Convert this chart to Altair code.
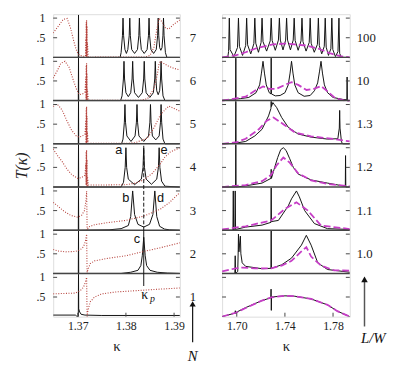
import altair as alt
import pandas as pd

PANEL_H = 1.1  # each stacked panel spans T in [0, 1.1]

# ---------------- left column : N = 1 (bottom) ... 7 (top) ----------------
N_LABELS = ["1", "2", "3", "4", "5", "6", "7"]
LEFT_XTICKS = [1.37, 1.38, 1.39]
LEFT_DOMAIN = [1.3649, 1.3912]
KAPPA_P = 1.3837

BLACK_N1 = [(1.3649, 0.04), (1.3695, 0.04), (1.3699, 0.0), (1.37012, 0.0), (1.37016, 1.08), (1.3702, 0.2),
            (1.3704, 0.12), (1.3707, 0.06), (1.3715, 0.04), (1.3750, 0.03), (1.3850, 0.03), (1.3912, 0.03)]
BLACK_N2 = [(1.3649, 0.0), (1.37012, 0.0), (1.37016, 1.08), (1.3702, 0.0), (1.3790, 0.0), (1.3810, 0.03),
            (1.3825, 0.08), (1.3831, 0.2), (1.3834, 0.45), (1.3837, 0.92), (1.3840, 0.45), (1.3843, 0.2),
            (1.3850, 0.08), (1.3865, 0.03), (1.3886, 0.01), (1.3912, 0.0)]
BLACK_N3 = [(1.3649, 0.0), (1.37012, 0.0), (1.37016, 1.08), (1.3702, 0.0), (1.3765, 0.01), (1.3790, 0.04),
            (1.3805, 0.12), (1.3810, 0.35), (1.3814, 1.0), (1.3818, 0.4), (1.3825, 0.15), (1.3837, 0.08),
            (1.3849, 0.15), (1.3856, 0.4), (1.3860, 1.0), (1.3864, 0.35), (1.3870, 0.1), (1.3880, 0.03),
            (1.3890, 0.01), (1.3912, 0.0)]
BLACK_N4 = [(1.3649, 0.0), (1.37012, 0.0), (1.37016, 1.08), (1.3702, 0.0), (1.3790, 0.0),
            (1.3795, 0.12), (1.37985, 0.5), (1.3800, 1.0), (1.38015, 0.5), (1.3805, 0.2), (1.3818, 0.06),
            (1.3832, 0.2), (1.38355, 0.5), (1.3837, 1.0), (1.38385, 0.5), (1.3842, 0.2), (1.3853, 0.07),
            (1.3864, 0.2), (1.38675, 0.5), (1.3869, 1.0), (1.38705, 0.5), (1.3874, 0.15), (1.3881, 0.02),
            (1.3912, 0.0)]
BLACK_N5 = [(1.3649, 0.0), (1.37012, 0.0), (1.37016, 1.08), (1.3702, 0.0), (1.3791, 0.0),
            (1.3794, 0.12), (1.37968, 0.55), (1.3798, 1.0), (1.37992, 0.55), (1.3802, 0.2), (1.38105, 0.06),
            (1.3819, 0.2), (1.38218, 0.55), (1.3823, 1.0), (1.38242, 0.55), (1.3827, 0.2), (1.3837, 0.06),
            (1.3847, 0.2), (1.38498, 0.55), (1.3851, 1.0), (1.38522, 0.55), (1.3855, 0.2), (1.3862, 0.1),
            (1.3869, 0.2), (1.38718, 0.55), (1.3873, 1.0), (1.38742, 0.55), (1.3877, 0.12), (1.3881, 0.0),
            (1.3912, 0.0)]
BLACK_N6 = [(1.3649, 0.0), (1.37012, 0.0), (1.37016, 1.08), (1.3702, 0.0), (1.3789, 0.0),
            (1.3792, 0.12), (1.37948, 0.55), (1.3796, 1.0), (1.37972, 0.55), (1.3800, 0.2), (1.3805, 0.1),
            (1.3810, 0.2), (1.38128, 0.55), (1.3814, 1.0), (1.38152, 0.55), (1.3818, 0.2), (1.3826, 0.08),
            (1.3834, 0.2), (1.38368, 0.55), (1.3838, 1.0), (1.38392, 0.55), (1.3842, 0.2), (1.38495, 0.08),
            (1.3857, 0.2), (1.38598, 0.55), (1.3861, 1.0), (1.38622, 0.55), (1.3864, 0.25), (1.3867, 0.15),
            (1.3870, 0.25), (1.38718, 0.55), (1.3873, 1.0), (1.38742, 0.55), (1.3877, 0.12), (1.3881, 0.0),
            (1.3912, 0.0)]
BLACK_N7 = [(1.3649, 0.0), (1.37012, 0.0), (1.37016, 1.08), (1.3702, 0.0), (1.3788, 0.0),
            (1.3790, 0.12), (1.37928, 0.55), (1.3794, 1.0), (1.37952, 0.55), (1.3798, 0.2), (1.3801, 0.1),
            (1.3804, 0.2), (1.38068, 0.55), (1.3808, 1.0), (1.38092, 0.55), (1.3812, 0.2), (1.3818, 0.1),
            (1.3824, 0.2), (1.38268, 0.55), (1.3828, 1.0), (1.38292, 0.55), (1.3832, 0.2), (1.3838, 0.1),
            (1.3844, 0.2), (1.38468, 0.55), (1.3848, 1.0), (1.38492, 0.55), (1.3852, 0.2), (1.38575, 0.1),
            (1.3863, 0.2), (1.38658, 0.55), (1.3867, 1.0), (1.38682, 0.55), (1.3870, 0.25), (1.38725, 0.18),
            (1.3875, 0.25), (1.38768, 0.55), (1.3878, 1.0), (1.38792, 0.55), (1.3882, 0.12), (1.3885, 0.0),
            (1.3912, 0.0)]

RED_N1 = [(1.3649, 0.58), (1.3670, 0.59), (1.3695, 0.6), (1.3705, 0.66), (1.3712, 0.75), (1.3716, 0.88),
          (1.37185, 1.0), (1.3719, 0.4), (1.37195, 0.0), (1.3721, 0.15), (1.3726, 0.38), (1.3735, 0.5),
          (1.3750, 0.58), (1.3780, 0.63), (1.3820, 0.66), (1.3870, 0.7), (1.3912, 0.73)]
RED_N2 = [(1.3649, 0.61), (1.3660, 0.57), (1.3675, 0.55), (1.3695, 0.56), (1.3705, 0.6), (1.3712, 0.68),
          (1.3716, 0.82), (1.37185, 1.0), (1.3719, 0.4), (1.37195, 0.0), (1.3721, 0.1), (1.3726, 0.25),
          (1.3735, 0.32), (1.3760, 0.38), (1.3800, 0.45), (1.3837, 0.56), (1.3870, 0.65), (1.3912, 0.78)]
RED_N3 = [(1.3649, 0.71), (1.3660, 0.6), (1.3672, 0.48), (1.3685, 0.38), (1.3700, 0.33), (1.3708, 0.38),
          (1.3714, 0.5), (1.3717, 0.75), (1.37185, 1.0), (1.3719, 0.5), (1.37195, 0.0), (1.3722, 0.08),
          (1.3735, 0.14), (1.3760, 0.19), (1.3800, 0.25), (1.3837, 0.36), (1.3872, 0.54), (1.3890, 0.7),
          (1.3912, 0.96)]
RED_N4 = [(1.3649, 0.97), (1.3658, 0.8), (1.3668, 0.64), (1.3678, 0.45), (1.3688, 0.31), (1.3700, 0.22),
          (1.3708, 0.24), (1.3715, 0.3), (1.37168, 0.6), (1.37172, 0.05), (1.37176, 0.9), (1.3718, 0.05),
          (1.37184, 0.95), (1.37188, 0.0), (1.37192, 0.7), (1.37196, 0.0), (1.372, 0.3), (1.3722, 0.05),
          (1.3740, 0.05), (1.3800, 0.06), (1.3820, 0.1), (1.3837, 0.18), (1.3855, 0.35), (1.3872, 0.6),
          (1.3880, 0.75), (1.3892, 0.89), (1.3912, 1.0)]
RED_N5 = [(1.3649, 0.95), (1.3654, 1.0), (1.3660, 0.98), (1.3668, 0.85), (1.3677, 0.6), (1.3687, 0.35),
          (1.3697, 0.2), (1.3703, 0.17), (1.3710, 0.2), (1.3715, 0.25), (1.37168, 0.6), (1.37172, 0.02),
          (1.37176, 0.9), (1.3718, 0.02), (1.37184, 0.95), (1.37188, 0.0), (1.37192, 0.7), (1.37196, 0.0),
          (1.372, 0.3), (1.3722, 0.01), (1.3800, 0.01), (1.3820, 0.03), (1.3845, 0.15), (1.3858, 0.4),
          (1.3872, 0.75), (1.3889, 0.96), (1.3900, 0.9), (1.3912, 0.83)]
RED_N6 = [(1.3649, 0.57), (1.3657, 0.75), (1.3665, 0.95), (1.36735, 1.0), (1.3682, 0.85), (1.3690, 0.55),
          (1.3697, 0.3), (1.3703, 0.15), (1.3710, 0.17), (1.3715, 0.22), (1.37168, 0.6), (1.37172, 0.02),
          (1.37176, 0.9), (1.3718, 0.02), (1.37184, 0.95), (1.37188, 0.0), (1.37192, 0.7), (1.37196, 0.0),
          (1.372, 0.3), (1.3722, 0.01), (1.3830, 0.01), (1.3845, 0.05), (1.3858, 0.3), (1.3865, 0.65),
          (1.3869, 0.95), (1.3872, 1.0), (1.3878, 0.95), (1.3888, 0.88), (1.3900, 0.82), (1.3912, 0.78)]
RED_N7 = [(1.3649, 0.62), (1.3660, 0.8), (1.3670, 0.97), (1.3678, 0.99), (1.3685, 0.75), (1.3692, 0.4),
          (1.3698, 0.15), (1.3703, 0.06), (1.3710, 0.03), (1.3716, 0.03), (1.37168, 0.5), (1.37172, 0.02),
          (1.37176, 0.9), (1.3718, 0.02), (1.37184, 0.95), (1.37188, 0.0), (1.37192, 0.8), (1.37196, 0.0),
          (1.372, 0.4), (1.3722, 0.005), (1.3840, 0.01), (1.3850, 0.05), (1.3858, 0.25), (1.3864, 0.7),
          (1.3869, 1.0), (1.3875, 0.9), (1.3882, 0.75), (1.3889, 0.72), (1.3900, 0.85), (1.3912, 0.95)]

LEFT_BLACK = [BLACK_N1, BLACK_N2, BLACK_N3, BLACK_N4, BLACK_N5, BLACK_N6, BLACK_N7]
LEFT_RED = [RED_N1, RED_N2, RED_N3, RED_N4, RED_N5, RED_N6, RED_N7]

# peak letters: (label, kappa, T, panel index)
PEAK_LETTERS = [("a", 1.3785, 0.93, 3), ("e", 1.3879, 0.93, 3), ("b", 1.3800, 0.83, 2),
                ("d", 1.3872, 0.83, 2), ("c", 1.3823, 0.87, 1)]

# ---------------- right column : L/W (bottom unlabeled) ----------------
LW_LABELS = ["", "1.0", "1.1", "1.2", "1.3", "10", "100"]
RIGHT_XTICKS = [1.70, 1.74, 1.78]
RIGHT_DOMAIN = [1.6878, 1.7939]

BLACK_R0 = [(1.6878, 0.0), (1.6985, 0.09), (1.6988, 0.15), (1.6991, 0.08), (1.6995, 0.11), (1.7074, 0.23),
            (1.7210, 0.41), (1.7283, 0.48), (1.7285, 0.7), (1.7287, 0.16), (1.7289, 0.5), (1.7400, 0.53),
            (1.7482, 0.52), (1.7618, 0.45), (1.7754, 0.3), (1.7836, 0.14), (1.7939, 0.0)]
BLACK_R1 = [(1.6878, 0.0), (1.6984, 0.0), (1.6987, 0.45), (1.6990, 0.0), (1.7008, 0.05), (1.7012, 0.6),
            (1.7014, 1.0), (1.7018, 0.55), (1.7022, 0.7), (1.7030, 0.95), (1.7034, 0.5), (1.7045, 0.27),
            (1.7074, 0.18), (1.7210, 0.12), (1.7284, 0.13), (1.7286, 1.08), (1.7288, 0.13), (1.7373, 0.22),
            (1.7455, 0.39), (1.7537, 0.72), (1.7578, 0.97), (1.7618, 0.72), (1.7673, 0.27), (1.7754, 0.1),
            (1.7939, 0.03)]
BLACK_R2 = [(1.6878, 0.0), (1.6968, 0.0), (1.6971, 1.0), (1.6974, 0.0), (1.6984, 0.0), (1.6987, 1.0),
            (1.6990, 0.02), (1.7074, 0.08), (1.7210, 0.13), (1.7284, 0.2), (1.7286, 1.08), (1.7288, 0.22),
            (1.7346, 0.25), (1.7428, 0.62), (1.7455, 0.8), (1.7496, 1.0), (1.7520, 0.85), (1.7564, 0.5),
            (1.7645, 0.17), (1.7754, 0.04), (1.7939, 0.02)]
BLACK_R3 = [(1.6878, 0.0), (1.6990, 0.0), (1.6992, 1.08), (1.6994, 0.0), (1.7074, 0.03), (1.7210, 0.1),
            (1.7284, 0.22), (1.7286, 0.45), (1.7288, 0.22), (1.7310, 0.45), (1.7340, 0.75), (1.7365, 0.95),
            (1.7387, 1.0), (1.7410, 0.93), (1.7440, 0.72), (1.7470, 0.5), (1.7510, 0.33), (1.7618, 0.18),
            (1.7754, 0.1), (1.7880, 0.03), (1.7902, 0.02), (1.7904, 0.8), (1.7906, 0.0), (1.7939, 0.0)]
BLACK_R4 = [(1.6878, 0.0), (1.6990, 0.01), (1.6992, 1.08), (1.6994, 0.02), (1.7074, 0.06), (1.7150, 0.2),
            (1.7210, 0.37), (1.7264, 0.71), (1.7284, 0.9), (1.7286, 1.08), (1.7288, 0.95), (1.7300, 1.05),
            (1.7312, 1.0), (1.7332, 0.92), (1.7373, 0.67), (1.7428, 0.42), (1.7509, 0.25), (1.7618, 0.17),
            (1.7754, 0.12), (1.7840, 0.13), (1.7852, 0.4), (1.7855, 0.85), (1.7858, 0.4), (1.7870, 0.05),
            (1.7880, 0.0), (1.7939, 0.0)]
BLACK_R5 = [(1.6878, 0.01), (1.6990, 0.02), (1.6992, 1.08), (1.6994, 0.04), (1.7030, 0.05), (1.7100, 0.08),
            (1.7160, 0.2), (1.7190, 0.4), (1.7205, 0.7), (1.7218, 1.0), (1.7230, 0.7), (1.7245, 0.4),
            (1.7270, 0.2), (1.7284, 0.17), (1.7286, 1.08), (1.7288, 0.17), (1.7320, 0.12), (1.7360, 0.13),
            (1.7400, 0.2), (1.7428, 0.4), (1.7443, 0.7), (1.7455, 1.0), (1.7467, 0.7), (1.7482, 0.4),
            (1.7510, 0.2), (1.7560, 0.11), (1.7610, 0.13), (1.7645, 0.25), (1.7672, 0.45), (1.7688, 0.75),
            (1.7700, 1.0), (1.7712, 0.7), (1.7728, 0.4), (1.7755, 0.2), (1.7800, 0.08), (1.7880, 0.03),
            (1.7915, 0.02), (1.7917, 0.6), (1.7919, 0.0), (1.7939, 0.0)]
BLACK_R6 = [(1.6878, 0.0), (1.6925, 0.0), (1.6932, 0.15), (1.6938, 1.0), (1.6944, 0.2), (1.6976, 0.02),
            (1.7006, 0.25), (1.7014, 1.0), (1.7022, 0.28), (1.7048, 0.05), (1.7074, 0.3), (1.7082, 1.0),
            (1.7090, 0.32), (1.7116, 0.09), (1.7142, 0.35), (1.7150, 1.0), (1.7158, 0.36), (1.7180, 0.13),
            (1.7202, 0.38), (1.7210, 1.0), (1.7218, 0.4), (1.7248, 0.16), (1.7278, 0.42), (1.7286, 1.0),
            (1.7294, 0.43), (1.7320, 0.18), (1.7346, 0.44), (1.7354, 1.0), (1.7362, 0.44), (1.7384, 0.19),
            (1.7406, 0.44), (1.7414, 1.0), (1.7422, 0.44), (1.7446, 0.19), (1.7469, 0.44), (1.7477, 1.0),
            (1.7485, 0.43), (1.7510, 0.18), (1.7534, 0.42), (1.7542, 1.0), (1.7550, 0.4), (1.7576, 0.16),
            (1.7602, 0.38), (1.7610, 1.0), (1.7618, 0.36), (1.7644, 0.13), (1.7670, 0.33), (1.7678, 1.0),
            (1.7686, 0.3), (1.7706, 0.09), (1.7727, 0.28), (1.7735, 1.0), (1.7743, 0.26), (1.7762, 0.05),
            (1.7782, 0.22), (1.7790, 1.0), (1.7798, 0.2), (1.7820, 0.02), (1.7841, 0.15), (1.7849, 1.0),
            (1.7855, 0.1), (1.7870, 0.0), (1.7939, 0.0)]

MAG_R0 = [(1.6878, 0.0), (1.6992, 0.1), (1.7074, 0.22), (1.7210, 0.41), (1.7286, 0.49), (1.7400, 0.53),
          (1.7482, 0.52), (1.7618, 0.45), (1.7754, 0.3), (1.7836, 0.14), (1.7939, 0.0)]
MAG_R1 = [(1.6878, 0.05), (1.6990, 0.13), (1.7050, 0.15), (1.7150, 0.13), (1.7286, 0.13), (1.7373, 0.2),
          (1.7455, 0.32), (1.7537, 0.56), (1.7578, 0.67), (1.7618, 0.43), (1.7700, 0.2), (1.7808, 0.08),
          (1.7939, 0.07)]
MAG_R2 = [(1.6878, 0.02), (1.7074, 0.1), (1.7286, 0.25), (1.7400, 0.54), (1.7496, 0.71), (1.7591, 0.5),
          (1.7700, 0.12), (1.7939, 0.03)]
MAG_R3 = [(1.6878, 0.0), (1.7074, 0.05), (1.7210, 0.15), (1.7286, 0.31), (1.7330, 0.55), (1.7387, 0.75),
          (1.7440, 0.62), (1.7510, 0.35), (1.7618, 0.17), (1.7754, 0.08), (1.7939, 0.02)]
MAG_R4 = [(1.6878, 0.0), (1.7000, 0.04), (1.7074, 0.13), (1.7183, 0.37), (1.7250, 0.59), (1.7305, 0.67),
          (1.7387, 0.5), (1.7482, 0.29), (1.7618, 0.19), (1.7810, 0.12), (1.7939, 0.06)]
MAG_R5 = [(1.6878, 0.0), (1.6950, 0.03), (1.7074, 0.1), (1.7150, 0.25), (1.7218, 0.36), (1.7270, 0.3),
          (1.7330, 0.3), (1.7400, 0.4), (1.7455, 0.47), (1.7510, 0.4), (1.7580, 0.27), (1.7640, 0.3),
          (1.7700, 0.37), (1.7760, 0.22), (1.7820, 0.06), (1.7900, 0.0), (1.7939, 0.0)]
MAG_R6 = [(1.6878, 0.0), (1.6990, 0.05), (1.7074, 0.13), (1.7150, 0.22), (1.7210, 0.27), (1.7300, 0.33),
          (1.7400, 0.35), (1.7482, 0.33), (1.7580, 0.3), (1.7680, 0.22), (1.7780, 0.1), (1.7860, 0.03),
          (1.7939, 0.0)]

RIGHT_BLACK = [BLACK_R0, BLACK_R1, BLACK_R2, BLACK_R3, BLACK_R4, BLACK_R5, BLACK_R6]
RIGHT_MAG = [MAG_R0, MAG_R1, MAG_R2, MAG_R3, MAG_R4, MAG_R5, MAG_R6]

TICK_LEVELS = [0.5, 1.0]
TICK_TEXT = [".5", "1"]

W_L, W_R, H = 129, 130, 308
SERIF = "Liberation Serif"


def curves_df(curves):
    rows = []
    for k, pts in enumerate(curves):
        for i, (x, t) in enumerate(pts):
            rows.append({"kappa": x, "y": t + PANEL_H * k, "panel": k, "order": i})
    return pd.DataFrame(rows)


def column(black, other, other_color, other_dash, other_width, domain, xticks, side_labels,
           width, show_y_labels):
    xs = alt.Scale(domain=domain, nice=False, zero=False)
    ys = alt.Scale(domain=[0, PANEL_H * len(black)], nice=False, zero=False)
    tick_vals = [PANEL_H * k + lv for k in range(len(black)) for lv in TICK_LEVELS]
    tick_txt = [tt for k in range(len(black)) for tt in TICK_TEXT]
    if show_y_labels:
        yaxis = alt.Axis(labels=False, ticks=False, domain=False, grid=False,
                         title="T(κ)", titleFont=SERIF, titleFontStyle="italic",
                         titleFontWeight="normal", titleFontSize=16, titlePadding=24, titleColor="#222")
    else:
        yaxis = None
    xaxis = alt.Axis(values=xticks, format=".2f", ticks=False, domain=False, grid=False,
                     labelOverlap=False,
                     labelFont=SERIF, labelFontSize=12, labelPadding=4, labelColor="#222",
                     title="κ", titleFont=SERIF, titleFontWeight="normal", titleFontSize=15,
                     titlePadding=7, titleColor="#222")

    bdf = curves_df(black)
    odf = curves_df(other)
    base_x = alt.X("kappa:Q", scale=xs, axis=xaxis)
    black_line = alt.Chart(bdf).mark_line(color="#111", strokeWidth=1, clip=True).encode(
        x=base_x, y=alt.Y("y:Q", scale=ys, axis=yaxis), detail="panel:N", order="order:Q")
    other_line = alt.Chart(odf).mark_line(color=other_color, strokeWidth=other_width,
                                          strokeDash=other_dash, clip=True).encode(
        x="kappa:Q", y="y:Q", detail="panel:N", order="order:Q")

    sep_df = pd.DataFrame({"y": [PANEL_H * k for k in range(1, len(black))]})
    seps = alt.Chart(sep_df).mark_rule(color="#444", strokeWidth=1.5).encode(
        y="y:Q", x=alt.value(0), x2=alt.value(width))

    tk_df = pd.DataFrame({"y": tick_vals, "t": tick_txt})
    lt = alt.Chart(tk_df).mark_rule(color="#444", strokeWidth=1).encode(
        y="y:Q", x=alt.value(0), x2=alt.value(4))
    rt = alt.Chart(tk_df).mark_rule(color="#444", strokeWidth=1).encode(
        y="y:Q", x=alt.value(width - 4), x2=alt.value(width))
    bt = alt.Chart(pd.DataFrame({"kappa": xticks})).mark_rule(color="#444", strokeWidth=1).encode(
        x="kappa:Q", y=alt.value(H), y2=alt.value(H - 4))

    lab_df = pd.DataFrame({"y": [PANEL_H * k + 0.5 for k in range(len(side_labels))],
                           "label": side_labels})
    labs = alt.Chart(lab_df).mark_text(align="left", baseline="middle", font=SERIF, fontSize=13,
                                       color="#222").encode(
        y="y:Q", x=alt.value(width + 7 if not show_y_labels else width + 10), text="label:N")
    layers = [black_line, other_line, seps, lt, rt, bt, labs]
    if show_y_labels:
        ytl = alt.Chart(tk_df).mark_text(align="right", baseline="middle", font=SERIF, fontSize=12,
                                         color="#222").encode(
            y="y:Q", x=alt.value(-8), text="t:N")
        layers.append(ytl)
    return layers


left_layers = column(LEFT_BLACK, LEFT_RED, "#b5403a", [1, 1.6], 1.1, LEFT_DOMAIN, LEFT_XTICKS,
                     N_LABELS, W_L, True)

# kappa_p marker line: solid through panels 1-2, dashed through 3-4
kp_solid = alt.Chart(pd.DataFrame({"kappa": [KAPPA_P], "y": [0.78], "y2": [2 * PANEL_H]})).mark_rule(
    color="#111", strokeWidth=1).encode(x="kappa:Q", y="y:Q", y2="y2:Q")
kp_dash = alt.Chart(pd.DataFrame({"kappa": [KAPPA_P], "y": [2 * PANEL_H], "y2": [3 * PANEL_H + 1.05]})).mark_rule(
    color="#111", strokeWidth=1, strokeDash=[4, 2]).encode(x="kappa:Q", y="y:Q", y2="y2:Q")
kp_text = alt.Chart(pd.DataFrame({"kappa": [KAPPA_P], "y": [0.55], "t": ["κ"]})).mark_text(
    font=SERIF, fontSize=14, color="#111", dx=1).encode(x="kappa:Q", y="y:Q", text="t:N")
kp_sub = alt.Chart(pd.DataFrame({"kappa": [KAPPA_P], "y": [0.45], "t": ["p"]})).mark_text(
    font=SERIF, fontSize=10, fontStyle="italic", color="#111", dx=9).encode(x="kappa:Q", y="y:Q", text="t:N")
letters_df = pd.DataFrame({"t": [p[0] for p in PEAK_LETTERS], "kappa": [p[1] for p in PEAK_LETTERS],
                           "y": [p[2] + PANEL_H * p[3] for p in PEAK_LETTERS]})
letters = alt.Chart(letters_df).mark_text(font="Liberation Sans", fontSize=13, color="#111").encode(
    x="kappa:Q", y="y:Q", text="t:N")
n_arrow = alt.Chart(pd.DataFrame({"a": [0]})).mark_rule(color="#111", strokeWidth=1.2).encode(
    x=alt.value(W_L + 13), y=alt.value(H - 12), y2=alt.value(H + 26))
n_head = alt.Chart(pd.DataFrame({"a": [0]})).mark_point(shape="triangle-up", filled=True, size=40,
                                                        color="#111", opacity=1).encode(
    x=alt.value(W_L + 13), y=alt.value(H - 13))
n_text = alt.Chart(pd.DataFrame({"t": ["N"]})).mark_text(font=SERIF, fontSize=15, fontStyle="italic",
                                                          color="#111").encode(
    x=alt.value(W_L + 13), y=alt.value(H + 40), text="t:N")

left = alt.layer(*left_layers, kp_solid, kp_dash, kp_text, kp_sub, letters, n_arrow, n_head,
                 n_text).properties(width=W_L, height=H)

right_layers = column(RIGHT_BLACK, RIGHT_MAG, "#c63dc6", [7, 3], 1.8, RIGHT_DOMAIN, RIGHT_XTICKS,
                      LW_LABELS, W_R, False)
lw_arrow = alt.Chart(pd.DataFrame({"a": [0]})).mark_rule(color="#555", strokeWidth=1.5).encode(
    x=alt.value(W_R + 15), y=alt.value(H - 37), y2=alt.value(H + 10))
lw_head = alt.Chart(pd.DataFrame({"a": [0]})).mark_point(shape="triangle-up", filled=True, size=45,
                                                         color="#111", opacity=1).encode(
    x=alt.value(W_R + 15), y=alt.value(H - 38))
lw_text = alt.Chart(pd.DataFrame({"t": ["L/W"]})).mark_text(font=SERIF, fontSize=15, fontStyle="italic",
                                                            color="#111").encode(
    x=alt.value(W_R + 24), y=alt.value(H + 22), text="t:N")
right = alt.layer(*right_layers, lw_arrow, lw_head, lw_text).properties(width=W_R, height=H)

chart = alt.hconcat(left, right, spacing=43).properties(
    bounds="flush", padding={"left": 5, "top": 0, "right": 5, "bottom": 0}
).configure_view(stroke="#444", strokeWidth=1.5).configure(background="white")

chart.save("out.html", embed_options={"renderer": "svg", "actions": False})
